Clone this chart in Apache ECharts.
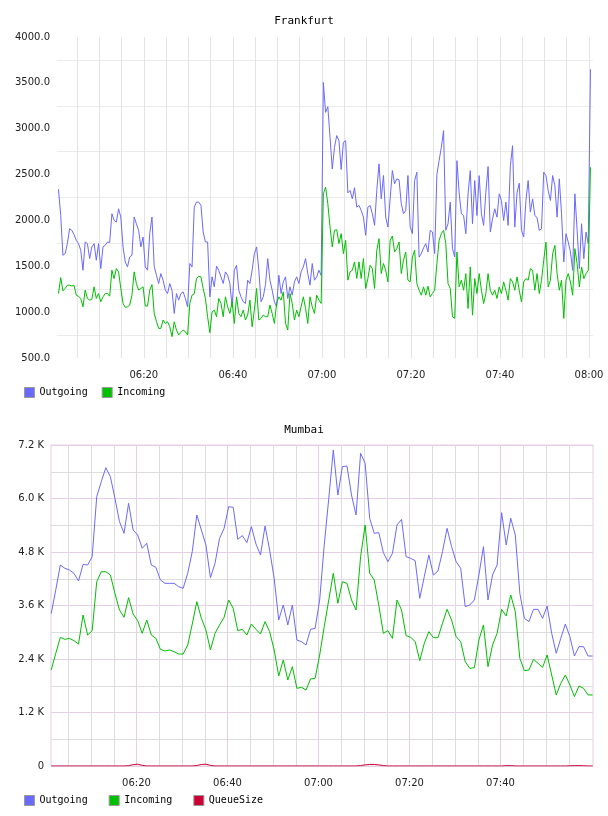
<!DOCTYPE html>
<html>
<head>
<meta charset="utf-8">
<title>Frankfurt / Mumbai</title>
<script src="https://cdn.jsdelivr.net/npm/echarts@6/dist/echarts.min.js"></script>
<style>
  html, body { margin: 0; padding: 0; background: #fff; }
  #main { width: 608px; height: 816px; }
</style>
</head>
<body>
<div id="main"></div>
<script>
//*******************************    data start   *******************************

// Frankfurt: one sample every 30 s, first sample 06:00:50 (x = minutes since midnight)
var frankStart = 360 + 50 / 60;
var frankStep = 0.5;

var frankOut = [
  2340,2055,1620,1638,1747,1910,1892,1845,1783,1747,1675,1457,1765,1747,1584,1711,1747,1566,1747,1475,
  1711,1729,1765,1760,2073,2000,1982,2127,2037,1711,1548,1493,1602,1620,2037,1964,1892,1711,1819,1493,
  1457,1856,2037,1500,1403,1312,1421,1348,1240,1203,1312,1240,986,1203,1131,1203,1221,1149,1058,1530,
  1493,2145,2200,2200,2164,1874,1765,1765,1167,1385,1276,1501,1457,1385,1312,1439,1403,1312,1058,1457,
  1511,1240,1167,1113,1095,1348,1312,1457,1638,1711,1457,1113,1167,1300,1584,1348,1240,1113,1058,1403,
  1203,1330,1385,1149,1276,1185,1330,1385,1312,1439,1493,1584,1421,1294,1530,1348,1385,1457,1400,3504,
  3178,3240,2906,2562,2798,2925,2870,2555,2852,2870,2300,2327,2236,2356,2145,2164,2109,2037,1838,2145,
  2164,2073,1946,2327,2617,2236,2490,2037,1928,2236,2544,2400,2453,2443,2182,2073,2109,2490,1928,1856,
  2435,2526,1600,1638,1700,1747,1656,1892,1874,1638,2500,2653,2798,2979,1892,1964,2200,1693,1602,2652,
  2300,2072,2054,1855,2290,2543,1964,2435,2054,2489,2072,1946,2308,2587,1873,2018,2127,2036,2290,2217,
  1999,2200,1946,2600,2815,1927,2300,2406,1891,1819,2217,2435,2091,2235,2054,2030,1891,1909,2525,2489,
  2326,2217,2489,2380,2036,2453,2072,1547,1855,1765,1656,1456,2290,1891,1475,1964,1583,1873,1746,3648
];

var frankIn = [
  1203,1377,1232,1258,1294,1294,1285,1290,1185,1174,1149,1058,1240,1149,1131,1140,1276,1149,1203,1113,
  1167,1203,1203,1174,1457,1366,1475,1439,1258,1095,1051,1058,1077,1185,1439,1312,1240,1258,1276,1066,
  1066,1240,1300,986,900,823,823,914,877,895,841,733,895,805,751,780,805,787,751,1095,
  1185,1200,1366,1392,1385,1258,1149,950,776,1004,1022,950,1149,1095,950,1167,1058,986,1113,877,
  1167,986,950,1022,914,968,1131,841,1022,1258,914,932,968,950,950,1077,986,877,1095,1167,
  1131,1221,877,805,1203,1095,914,1022,950,1058,1167,1040,877,1167,1058,986,1185,1131,1095,2290,
  2363,2182,1928,1711,1892,1899,1747,1856,1638,1783,1349,1439,1457,1548,1367,1548,1367,1584,1258,1367,
  1511,1475,1258,1675,1801,1421,1530,1457,1330,1783,1830,1656,1693,1765,1421,1566,1656,1349,1330,1600,
  1675,1312,1240,1185,1276,1185,1283,1167,1204,1240,1530,1783,1856,1892,1747,1312,1258,950,932,1656,
  1275,1348,1239,1420,1040,1493,967,1366,1203,1420,1239,1094,1203,1420,1239,1185,1239,1149,1275,1203,
  1330,1239,1131,1366,1330,1239,1384,1239,1112,1330,1366,1348,1475,1456,1239,1420,1203,1348,1565,1764,
  1275,1348,1637,1728,1420,1239,1348,931,1348,1420,1330,1185,1692,1529,1275,1493,1366,1420,1456,2580
];

var frankYLabels = [500, 1000, 1500, 2000, 2500, 3000, 3500, 4000];
var frankTimeLabels = [380, 400, 420, 440, 460, 480];   // 06:20 ... 08:00

// Mumbai: one sample every minute, first sample 06:01:15
var mumStart = 361.25;
var mumStep = 1;

var mumOut = [
  3420,3950,4508,4434,4397,4322,4150,4523,4508,4695,6041,6377,6691,6489,6004,5481,5219,5892,5294,5182,
  4883,4995,4508,4456,4172,4097,4097,4097,4023,3985,4322,4808,5630,5294,4957,4224,4546,5107,5331,5817,
  5802,5085,5167,5010,5369,4980,4733,5384,4846,4210,3275,3611,3164,3611,2826,2789,2714,3065,3087,3723,
  4950,6000,7087,6078,6714,6729,6078,5630,7013,6789,5556,5219,5234,4786,4583,4770,5406,5533,4695,4658,
  4606,3761,4247,4733,4284,4374,4808,5331,4920,4583,4434,3574,3611,3724,4284,4920,3724,4284,4508,5682,
  4957,5556,5182,3873,3312,3238,3514,3514,3312,3589,2976,2528,2864,3185,2901,2467,2677,2677,2467,2467
];

var mumIn = [
  2153,2527,2886,2841,2863,2811,2736,3387,2938,3036,4134,4358,4358,4284,3873,3499,3335,3776,3409,3260,
  2976,3275,2938,2863,2617,2580,2602,2565,2512,2512,2714,3185,3686,3312,3051,2602,2976,3164,3335,3723,
  3537,3036,3065,2938,3185,3065,2961,3238,3013,2602,2019,2378,1929,2228,1742,1765,1705,1952,1967,2490,
  3125,3724,4322,3649,4134,4097,3724,3500,4695,5406,4322,4172,3600,2976,3036,2863,3723,3499,2923,2886,
  2789,2363,2752,3013,2878,2878,3200,3514,3275,2901,2789,2340,2190,2205,2826,3164,2228,2714,2976,3514,
  3365,3836,3462,2415,2138,2153,2393,2303,2213,2490,2041,1593,1854,2041,1817,1555,1795,1742,1593,1593
];

var mumQueue = [
  0,0,0,0,0,0,0,0,0,0,
  0,0,0,0,0,0,0,8,30,40,
  15,0,0,0,0,0,0,0,0,0,
  0,0,12,35,40,15,0,0,0,0,
  0,0,0,0,0,0,0,0,0,0,
  0,0,0,0,0,0,0,0,0,0,
  0,0,0,0,0,0,0,0,10,25,
  35,35,25,10,0,0,0,0,0,0,
  0,0,0,0,0,0,0,0,0,0,
  0,0,0,0,0,0,0,0,0,0,
  8,8,0,0,0,0,0,0,0,0,
  0,0,0,0,5,8,8,5,0,0
];

var mumYLabels = [0, 1200, 2400, 3600, 4800, 6000, 7200];
var mumTimeLabels = [380, 400, 420, 440, 460];          // 06:20 ... 07:40

//*******************************    data end   *******************************

var monoFont = '"DejaVu Sans Mono", "Liberation Mono", monospace';
var sansFont = '"DejaVu Sans", Verdana, sans-serif';

var outColor = '#6a6aff';
var inColor = '#00c000';
var queueColor = '#cc0033';

var purple = '#e4cfe4';
var grey = '#dddddd';

// [time, value] pairs for the line series
function pairs(start, step, vals) {
  return vals.map(function (v, i) { return [start + i * step, v]; });
}

// tick positions (5 min on x, gridline steps on y)
function steps(from, to, step) {
  var r = [];
  for (var v = from; v <= to + 1e-9; v += step) r.push(v);
  return r;
}

function hhmm(v) {
  var t = Math.round(v);
  var h = Math.floor(t / 60), m = t % 60;
  return (h < 10 ? '0' : '') + h + ':' + (m < 10 ? '0' : '') + m;
}

var chart = echarts.init(document.getElementById('main'), null, { renderer: 'canvas' });

chart.setOption({
  animation: false,
  backgroundColor: '#fff',
  title: [
    { text: 'Frankfurt', left: 'center', top: 11,
      textStyle: { fontFamily: monoFont, fontSize: 11, fontWeight: 'normal', color: '#000' } },
    { text: 'Mumbai', left: 'center', top: 420,
      textStyle: { fontFamily: monoFont, fontSize: 11, fontWeight: 'normal', color: '#000' } }
  ],
  legend: [
    { data: ['Outgoing', 'Incoming'], left: 24, top: 387, padding: 0, icon: 'rect',
      itemWidth: 10, itemHeight: 10, itemGap: 14,
      itemStyle: { borderColor: '#999', borderWidth: 1 },
      textStyle: { fontFamily: monoFont, fontSize: 10, color: '#000' } },
    { data: ['Outgoing', 'Incoming', 'QueueSize'], left: 24, top: 795, padding: 0, icon: 'rect',
      itemWidth: 10, itemHeight: 10, itemGap: 21,
      itemStyle: { borderColor: '#999', borderWidth: 1 },
      textStyle: { fontFamily: monoFont, fontSize: 10, color: '#000' } }
  ],
  grid: [
    { left: 57, top: 37, width: 536, height: 321 },
    { left: 51, top: 445, width: 542, height: 321, show: true,
      borderColor: purple, borderWidth: 1, backgroundColor: 'transparent' }
  ],
  xAxis: [
    { type: 'value', gridIndex: 0, min: 360.5, max: 480.9,
      axisLine: { show: false },
      axisTick: { show: false, customValues: steps(365, 480, 5) },
      axisLabel: { customValues: frankTimeLabels, formatter: hhmm, margin: 12,
        fontFamily: sansFont, fontSize: 10, color: '#222' },
      splitLine: { show: true, lineStyle: { color: '#e4e4e4', width: 1 } } },
    { type: 'value', gridIndex: 1, min: 361.2, max: 480.33,
      axisLine: { show: false },
      axisTick: { show: false, customValues: steps(365, 475, 5) },
      axisLabel: { customValues: mumTimeLabels, formatter: hhmm, margin: 12,
        fontFamily: sansFont, fontSize: 10, color: '#222' },
      splitLine: { show: true, lineStyle: { color: [grey, grey, grey, purple], width: 1 } } }
  ],
  yAxis: [
    { type: 'value', gridIndex: 0, min: 500, max: 4000,
      axisLine: { show: false },
      axisTick: { show: false, customValues: steps(750, 3750, 500) },
      axisLabel: { customValues: frankYLabels, margin: 7,
        formatter: function (v) { return v.toFixed(1); },
        fontFamily: sansFont, fontSize: 10, color: '#222' },
      splitLine: { show: true, lineStyle: { color: '#ebebeb', width: 1 } } },
    { type: 'value', gridIndex: 1, min: 0, max: 7200,
      axisLine: { show: false },
      axisTick: { show: false, customValues: steps(0, 7200, 600) },
      axisLabel: { customValues: mumYLabels, margin: 7,
        formatter: function (v) { return v === 0 ? '0' : (v / 1000).toFixed(1) + ' K'; },
        fontFamily: sansFont, fontSize: 10, color: '#222' },
      splitLine: { show: true, lineStyle: { color: [purple, grey], width: 1 } } }
  ],
  series: [
    { name: 'Outgoing', type: 'line', xAxisIndex: 0, yAxisIndex: 0, showSymbol: false,
      color: outColor, lineStyle: { width: 1 }, data: pairs(frankStart, frankStep, frankOut) },
    { name: 'Incoming', type: 'line', xAxisIndex: 0, yAxisIndex: 0, showSymbol: false,
      color: inColor, lineStyle: { width: 1 }, data: pairs(frankStart, frankStep, frankIn) },
    { name: 'Outgoing', type: 'line', xAxisIndex: 1, yAxisIndex: 1, showSymbol: false,
      color: outColor, lineStyle: { width: 1 }, data: pairs(mumStart, mumStep, mumOut) },
    { name: 'Incoming', type: 'line', xAxisIndex: 1, yAxisIndex: 1, showSymbol: false,
      color: inColor, lineStyle: { width: 1 }, data: pairs(mumStart, mumStep, mumIn) },
    { name: 'QueueSize', type: 'line', xAxisIndex: 1, yAxisIndex: 1, showSymbol: false,
      color: queueColor, lineStyle: { width: 1 }, data: pairs(mumStart, mumStep, mumQueue) }
  ]
});
</script>
</body>
</html>
